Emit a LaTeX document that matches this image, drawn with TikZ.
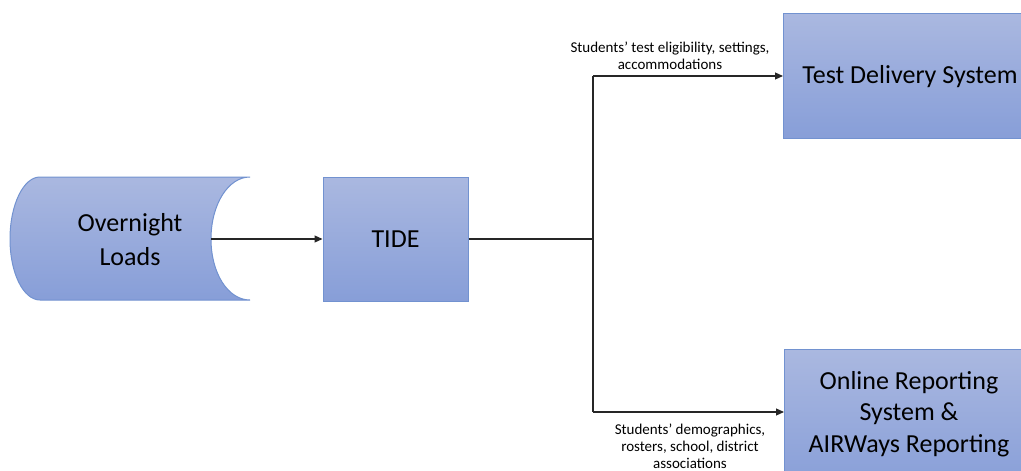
\documentclass[tikz,border=0pt]{standalone}
\usepackage{fontspec}
\setmainfont{Carlito}
\usetikzlibrary{arrows.meta}
\definecolor{boxtop}{RGB}{170,184,224}
\definecolor{boxbot}{RGB}{135,158,216}
\definecolor{boxline}{RGB}{114,146,208}
\tikzset{
  blk/.style={draw=boxline, line width=1pt, top color=boxtop, bottom color=boxbot, align=center, font=\fontsize{26}{32}\selectfont, inner sep=0pt},
  conn/.style={draw=black!85, line width=1.1pt},
  arr/.style={conn, -{Triangle[length=8pt,width=7pt]}},
  lbl/.style={align=center, font=\fontsize{15}{17.2}\selectfont, inner sep=0pt}
}
\begin{document}
\begin{tikzpicture}[x=1pt,y=-1pt]
\clip (0,0) rectangle (1021,471);
% Overnight Loads shape
\shade[top color=boxtop, bottom color=boxbot, draw=boxline, line width=1pt]
  (40,177) -- (250,177)
  .. controls (228,177) and (211,204.8) .. (211,239)
  .. controls (211,273.2) and (228,300) .. (250,300)
  -- (40,300)
  .. controls (23.4,300) and (10,273.2) .. (10,239)
  .. controls (10,204.8) and (23.4,177) .. (40,177) -- cycle;
\node[align=center, font=\fontsize{26}{34}\selectfont, inner sep=0pt] (ol) at (130,240) {Overnight\\Loads};
\coordinate (olr) at (211,239);
% TIDE
\node[blk, minimum width=145pt, minimum height=124pt] (tide) at (395.5,239) {TIDE};
% Test Delivery System
\node[blk, minimum width=240pt, minimum height=125pt, anchor=north west] (tds) at (783,13) {};
\node[font=\fontsize{26}{30}\selectfont, inner sep=0pt] (tdst) at (910,77) {Test Delivery System};
% Online Reporting
\node[blk, minimum width=240pt, minimum height=140pt, anchor=north west] (ors) at (784,349) {};
\node[align=center, font=\fontsize{26}{31.5}\selectfont, inner sep=0pt] (orst) at (909,414) {Online Reporting\\System \&\\AIRWays Reporting};
% junction
\coordinate (j) at (593,239);
\coordinate (jt) at (593,76);
\coordinate (jb) at (593,412);
\draw[arr] (olr) -- (tide.west);
\draw[conn] (tide.east) -- (j);
\draw[conn] (jt) -- (jb);
\draw[arr] (jt) -- (tds.west |- jt);
\draw[arr] (jb) -- (ors.west |- jb);
% labels
\node[lbl] (l1) at (670,56) {Students’ test eligibility, settings,\\accommodations};
\node[lbl] (l2) at (690,446) {Students’ demographics,\\rosters, school, district\\associations};
\end{tikzpicture}
\end{document}
